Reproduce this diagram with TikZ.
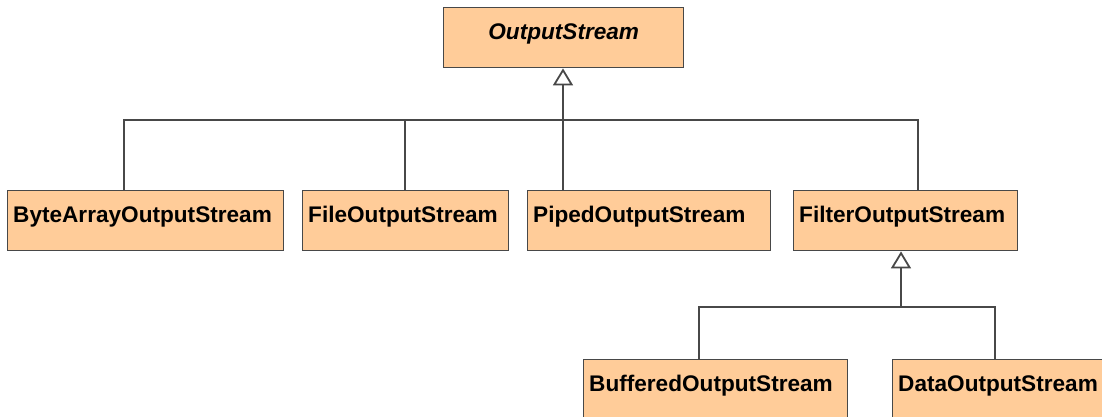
\documentclass[tikz,border=0pt]{standalone}
\usepackage{fontspec}
\setmainfont{Liberation Sans}
\usetikzlibrary{arrows.meta}
\definecolor{peach}{RGB}{255,204,153}
\definecolor{edge}{RGB}{72,72,72}
\tikzset{
  classbox/.style={draw=edge, fill=peach, line width=1.4pt, anchor=north west,
    inner xsep=5.5pt, inner ysep=0pt, text height=32pt, text depth=28pt,
    align=left, font=\bfseries\fontsize{22.6}{26}\selectfont},
  abstractbox/.style={classbox, align=center,
    font=\bfseries\itshape\fontsize{22.6}{26}\selectfont},
  link/.style={draw=edge, line width=1.5pt},
  inherit/.style={link, -{Triangle[open, width=20pt, length=17pt, line width=1.8pt]}}
}
\begin{document}
\begin{tikzpicture}[x=1pt, y=-1pt]
  \useasboundingbox (0,0) rectangle (1102,416);
  \clip (0,0) rectangle (1102,416);

  % classes
  \node[abstractbox, text width=229pt] (os) at (443,7) {OutputStream};
  \node[classbox, text width=265pt] (ba) at (7,190)   {ByteArrayOutputStream};
  \node[classbox, text width=195pt] (fo) at (302,190) {FileOutputStream};
  \node[classbox, text width=232pt] (po) at (527,190) {PipedOutputStream};
  \node[classbox, text width=213pt] (fi) at (793,190) {FilterOutputStream};
  \node[classbox, text width=253pt] (bu) at (583,359) {BufferedOutputStream};
  \node[classbox, text width=219pt] (da) at (892,359) {DataOutputStream};

  % junctions of the first inheritance bus
  \coordinate (j1) at (124,120);
  \coordinate (j2) at (405,120);
  \coordinate (j3) at (563,120);
  \coordinate (j4) at (918,120);

  \draw[link] (ba.north -| j1) |- (j4) -- (fi.north -| j4);
  \draw[link] (fo.north -| j2) -- (j2);
  \draw[link] (po.north -| j3) -- (j3);
  \draw[inherit, line width=2.2pt] (j3) -- (os.south -| j3);

  % junctions of the second inheritance bus
  \coordinate (k0) at (901,307);
  \coordinate (k1) at (699,307);
  \coordinate (k2) at (995,307);

  \draw[link] (bu.north -| k1) |- (k2) -- (da.north -| k2);
  \draw[inherit] (k0) -- (fi.south -| k0);
\end{tikzpicture}
\end{document}
